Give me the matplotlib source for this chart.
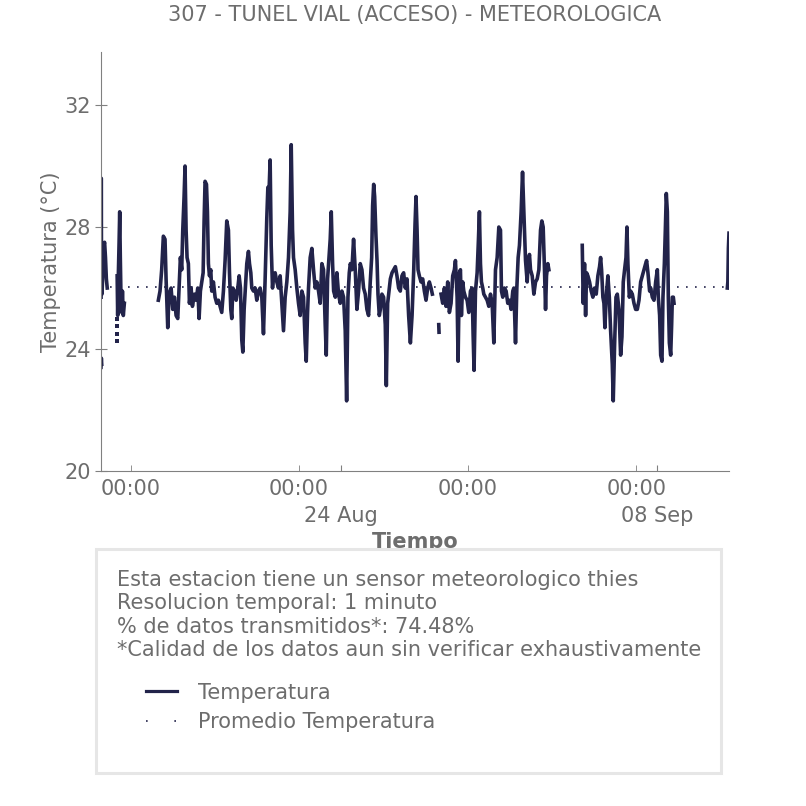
import numpy as np
import pandas as pd
import matplotlib
matplotlib.use('Agg')
import matplotlib.pyplot as plt
import matplotlib.dates as mdates
from matplotlib.lines import Line2D
from matplotlib.patches import Rectangle
from matplotlib.ticker import FixedLocator

# origen de tiempo: horas contadas desde el 14 Aug 00:00
inicio = pd.Timestamp('2019-08-14 00:00')

# tramos con datos (horas, temperatura en °C)
tramo1_h = [-33.6, -33.2, -32.8]
tramo1_t = [23.4, 23.7, 23.5]

tramo2_h = [-33.5, -33.3, -33.0, -32.5, -31.5, -30.5, -29.5, -28.5, -27.5, -26.5]
tramo2_t = [25.7, 29.6, 26.2, 25.8, 26.5, 27.4, 27.5, 27.0, 26.3, 26.0]

tramo3_h = [-15.2, -14.6, -13.8, -13.0, -12.3, -11.6, -10.8, -10.0, -9.2, -8.2, -7.0]
tramo3_t = [26.4, 25.1, 26.5, 27.5, 28.5, 27.0, 25.6, 25.2, 25.9, 25.1, 25.5]

tramo4_h = [31.7, 33.6, 35.5, 37.4, 39.3, 40.5, 42.4, 43.9, 46.2, 48.1, 50.0, 51.9, 53.8, 55.3, 56.8,
            58.3, 59.5, 61.0, 62.1, 63.3, 64.4, 65.9, 67.1, 69.0, 70.5, 72.8, 74.7, 76.6, 78.1, 79.6,
            81.1, 82.7, 83.8, 84.9, 86.5, 87.6, 88.7, 89.9, 91.4, 92.5, 94.4, 96.3, 98.2, 100.1, 102.0,
            103.9, 105.8, 107.7, 109.6, 111.5, 112.7, 114.2, 115.3, 116.5, 118.4, 120.3, 121.8, 123.7,
            125.2, 126.7, 127.9, 129.4, 130.6, 132.4, 134.3, 135.5, 137.0, 138.1, 140.0, 141.9, 143.8,
            145.7, 147.6, 149.5, 151.4, 153.3, 155.2, 156.4, 157.9, 159.0, 160.2, 161.7, 162.8, 164.7,
            166.6, 168.5, 170.4, 172.3, 174.2, 176.1, 178.0, 179.9, 181.8, 183.0, 184.5, 185.6, 187.5,
            189.4, 191.3, 193.2, 195.1, 197.0, 198.9, 200.1, 201.6, 202.7, 204.6, 206.5, 208.4, 210.3,
            212.2, 214.1, 216.0, 217.9, 219.8, 221.7, 222.9, 224.4, 226.3, 227.4, 228.6, 230.1, 231.3,
            233.2, 235.0, 236.9, 238.8, 240.7, 242.6, 244.5, 246.1, 247.6, 249.1, 250.3, 252.1, 254.0,
            255.9, 257.8, 259.7, 261.6, 263.5, 265.4, 267.3, 269.2, 271.1, 273.0, 274.6, 275.7, 276.9,
            278.0, 279.5, 280.7, 281.8, 283.3, 284.5, 286.3, 288.2, 290.1, 291.3, 292.8, 294.7, 295.9,
            297.8, 299.7, 301.6, 303.4, 305.3, 307.2, 309.1, 311.0, 312.9, 314.8, 316.7, 318.7, 320.6,
            322.5, 324.0, 325.1, 326.3, 327.4, 328.9, 330.8, 332.7, 334.6, 336.5, 338.4, 340.3, 342.2,
            343.7]
tramo4_t = [25.6, 25.9, 26.6, 27.7, 27.6, 26.3, 24.7, 25.8, 26.0, 25.3, 25.7, 25.1, 25.0, 26.0, 27.0,
            26.6, 27.9, 29.0, 30.0, 27.9, 27.0, 26.8, 25.5, 26.0, 25.4, 25.8, 25.6, 26.0, 25.0, 25.9,
            26.2, 26.5, 28.2, 29.5, 29.4, 28.5, 26.8, 26.4, 26.6, 25.9, 26.2, 25.7, 25.5, 25.6, 25.4,
            25.2, 25.9, 26.9, 28.2, 27.9, 26.5, 25.3, 25.0, 26.0, 25.9, 25.6, 25.9, 26.4,
            26.0, 24.3, 23.9, 25.3, 25.9, 26.8, 27.2, 26.8, 26.5, 26.0, 25.9, 26.0, 25.6,
            25.9, 26.0, 25.7, 24.5, 26.3, 28.3, 29.3, 29.3, 30.2, 27.4, 26.0, 26.4, 26.5,
            26.2, 26.0, 26.4, 25.5, 24.6, 25.7, 26.2, 27.0, 28.5, 30.7, 27.9, 27.0, 26.6,
            26.0, 25.5, 25.1, 25.9, 25.7, 24.2, 23.6, 25.2, 26.0, 27.0, 27.3, 26.6, 26.0,
            26.2, 25.9, 25.5, 26.8, 26.6, 24.8, 23.8, 26.3, 27.1, 27.6, 28.5, 26.8, 25.9,
            25.7, 26.5, 25.8, 25.5, 25.9, 25.7, 24.6, 22.3, 25.7, 26.5, 26.8, 26.6, 27.6,
            26.6, 25.3, 25.9, 26.8, 26.6, 26.0, 25.8, 25.3, 25.1, 26.2, 27.0, 28.7, 29.4,
            29.0, 27.7, 26.9, 25.8, 25.1, 25.3, 25.8, 25.7, 24.8, 22.8, 25.5, 26.0, 26.3,
            26.5, 26.6, 26.7, 26.4, 26.0, 25.9, 26.4, 26.5, 26.0, 26.3, 25.1, 24.2, 25.1,
            26.6, 28.1, 29.0, 27.9, 26.6, 26.4, 26.2, 26.3, 25.9, 25.6, 26.0, 26.2, 26.0,
            25.8]

tramo5_h = [351.0, 351.3]
tramo5_t = [24.8, 24.55]

tramo6_h = [353.6, 355.5, 357.4, 359.3, 361.2, 363.1, 365.0, 366.9, 368.8, 370.0, 371.9, 373.0, 374.5,
            375.7, 376.8, 378.3, 379.5, 381.4, 383.3, 385.2, 387.1, 389.0, 390.1, 391.2, 392.8, 394.7,
            396.2, 397.3, 398.5, 399.6, 401.1, 402.3, 404.2, 406.1, 408.0, 409.9, 411.8, 413.7, 415.6,
            417.5, 419.4, 421.3, 422.4, 423.9, 425.8, 427.7, 429.6, 431.5, 433.4, 435.3, 436.5, 438.4,
            439.9, 441.4, 442.9, 444.8, 446.4, 447.9, 449.8, 451.7, 452.8, 454.3, 455.5, 457.4, 459.3,
            461.2, 463.1, 465.0, 466.9, 468.4, 469.9, 471.4, 472.6, 473.7, 475.2, 476.4]
tramo6_t = [25.8, 25.5, 26.0, 25.4, 26.2, 25.2, 25.5, 26.4, 26.6, 26.9, 25.7, 23.6, 26.5,
            26.6, 25.1, 26.2, 25.9, 25.7, 25.6, 25.2, 25.9, 26.0, 24.5, 23.3, 25.9, 26.5,
            27.6, 28.5, 26.8, 26.2, 26.0, 25.8, 25.7, 25.6, 25.4, 25.8, 25.5, 24.2, 26.6,
            27.0, 28.0, 27.9, 25.9, 25.7, 26.0, 25.9, 25.5, 25.6, 25.3, 25.9, 26.0, 24.2,
            26.0, 27.0, 27.4, 28.5, 29.8, 28.5, 26.9, 26.2, 26.8, 27.1, 26.6, 26.4, 25.8,
            26.2, 26.3, 26.6, 27.9, 28.2, 28.0, 26.6, 25.3, 26.4, 26.8, 26.6]

tramo7_h = [514.4, 515.5, 517.0, 518.2, 519.3, 520.8, 522.7, 524.6, 526.5, 528.4, 530.3, 532.2, 534.1,
            535.3, 536.4, 537.9, 539.1, 540.2, 541.7, 543.6, 545.2, 546.7, 548.6, 549.7, 551.2, 552.8,
            554.3, 556.2, 558.1, 559.6, 561.1, 562.6, 564.2, 565.3, 566.4, 568.0, 569.5, 571.4, 573.3,
            575.2, 577.1, 579.0, 580.9, 582.8, 584.7, 586.6, 587.7, 589.2, 591.1, 592.3, 594.2, 596.1,
            598.0, 599.9, 601.0, 602.5, 603.7, 605.2, 606.3, 607.9, 609.0, 610.1, 611.3, 612.4, 613.6,
            615.1, 616.2, 617.0, 618.1, 618.9]
tramo7_t = [27.4, 25.5, 26.8, 25.1, 26.5, 26.4, 26.2, 25.9, 25.7, 26.0, 25.8, 26.4, 26.7,
            27.0, 26.6, 25.7, 25.5, 24.7, 25.7, 26.4, 25.7, 24.6, 23.5, 22.3, 24.1, 25.7,
            25.8, 25.3, 23.8, 24.4, 26.2, 26.6, 27.0, 28.0, 26.8, 25.7, 25.9, 25.8, 25.5,
            25.3, 25.3, 25.6, 26.2, 26.4, 26.6, 26.8, 26.9, 26.5, 25.9, 26.0, 25.7, 25.6,
            26.2, 26.6, 25.7, 25.1, 23.8, 23.6, 25.7, 26.8, 27.9, 29.1, 28.5, 25.7, 24.2,
            23.8, 24.8, 25.7, 25.7, 25.5]

tramo8_h = [679.6, 680.2, 680.8, 681.5]
tramo8_t = [26.0, 26.2, 27.3, 27.8]

# lecturas sueltas
sueltos_h = [-15.2, -15.2, -15.2, -15.2]
sueltos_t = [25.0, 24.75, 24.5, 24.25]

promedio = 26.04

tramos = [(tramo1_h, tramo1_t), (tramo2_h, tramo2_t), (tramo3_h, tramo3_t), (tramo4_h, tramo4_t),
          (tramo5_h, tramo5_t), (tramo6_h, tramo6_t), (tramo7_h, tramo7_t), (tramo8_h, tramo8_t)]

gris = '#6d6d6d'
azul = '#22234a'
fs = 15


def a_fecha(horas):
    return inicio + pd.to_timedelta(np.array(horas), unit='h')


plt.rcParams['font.family'] = 'DejaVu Sans'
fig = plt.figure(figsize=(8.06, 8.06), dpi=100)
ax = fig.add_axes([101 / 806, 335 / 806, 628 / 806, 419 / 806])

todas = []
for h, t in tramos:
    f = a_fecha(h)
    todas.extend(f)
    ax.plot(f, t, color=azul, lw=2.6)
ax.plot(a_fecha(sueltos_h), sueltos_t, ls='none', marker='s', ms=2.2, color=azul, mew=0)

ax.axhline(promedio, color=azul, lw=1.2, ls=(0, (1, 4.4)))

ax.set_xlim(min(todas), max(todas))
ax.set_ylim(20, 33.74)
ax.set_yticks([20, 24, 28, 32])

mayores = pd.to_datetime(['2019-08-24', '2019-09-08'])
menores = pd.to_datetime(['2019-08-14', '2019-08-22', '2019-08-30', '2019-09-07'])
ax.xaxis.set_major_locator(FixedLocator(mdates.date2num(mayores)))
ax.xaxis.set_major_formatter(mdates.DateFormatter('%d %b'))
ax.xaxis.set_minor_locator(FixedLocator(mdates.date2num(menores)))
ax.xaxis.set_minor_formatter(mdates.DateFormatter('%H:%M'))

for s in ['top', 'right']:
    ax.spines[s].set_visible(False)
for s in ['left', 'bottom']:
    ax.spines[s].set_color('#808080')
ax.tick_params(axis='x', which='minor', direction='in', length=4, color='#808080',
               labelcolor=gris, labelsize=fs, pad=5.5)
ax.tick_params(axis='x', which='major', direction='in', length=4, color='#808080',
               labelcolor=gris, labelsize=fs, pad=25.5)
ax.tick_params(axis='y', direction='inout', length=8, color='#808080',
               labelcolor=gris, labelsize=fs, pad=3)

ax.set_ylabel('Temperatura (°C)', color=gris, fontsize=fs, labelpad=3)
ax.set_xlabel('Tiempo', color=gris, fontsize=fs, fontweight='bold', labelpad=4)

fig.text(415 / 806, 1 - 15 / 806, '307 - TUNEL VIAL (ACCESO) - METEOROLOGICA',
         ha='center', va='center', color=gris, fontsize=fs)

# recuadro con la informacion
caja = Rectangle((96 / 806, 33 / 806), 625 / 806, 224 / 806, transform=fig.transFigure,
                 facecolor='white', edgecolor='#e6e6e6', lw=2.2, zorder=4)
fig.add_artist(caja)

info = ['Esta estacion tiene un sensor meteorologico thies',
        'Resolucion temporal: 1 minuto',
        '% de datos transmitidos*: 74.48%',
        '*Calidad de los datos aun sin verificar exhaustivamente']
fig.text(117 / 806, 1 - 570 / 806, '\n'.join(info), ha='left', va='top', color=gris,
         fontsize=fs, linespacing=1.21, zorder=6)

manejadores = [Line2D([], [], color=azul, lw=2.3),
               Line2D([], [], color=azul, lw=1.2, ls=(0, (1, 16)))]
leyenda = fig.legend(manejadores, ['Temperatura', 'Promedio Temperatura'], loc='upper left',
                     bbox_to_anchor=(127 / 806, 1 - 664 / 806), frameon=False, fontsize=fs,
                     labelcolor=gris, handlelength=1.5, handletextpad=1.0, labelspacing=0.44)
leyenda.set_zorder(6)

plt.savefig('out.png', dpi=100)
